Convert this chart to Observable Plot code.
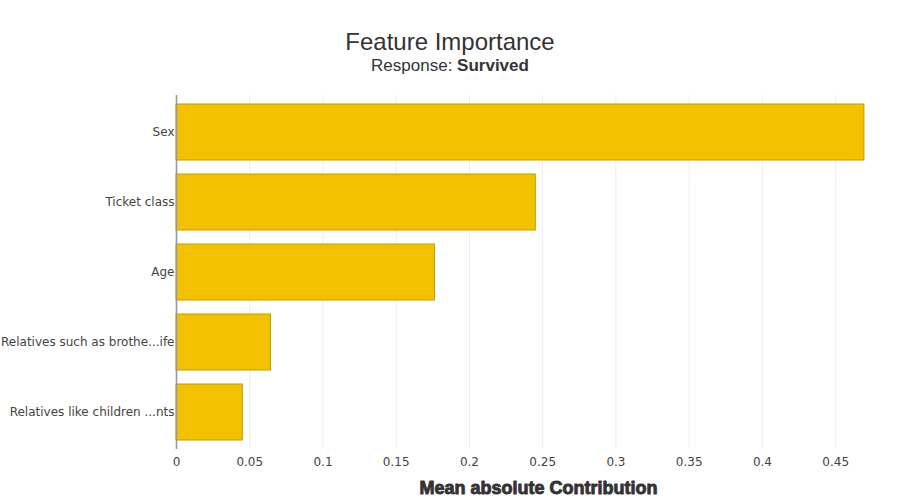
<!DOCTYPE html>
<html>
<head>
<meta charset="utf-8">
<script src="https://cdn.jsdelivr.net/npm/d3@7"></script>
<script src="https://cdn.jsdelivr.net/npm/@observablehq/plot@0.6"></script>
<style>
  html, body { margin: 0; padding: 0; background: #fff; }
  #wrap { width: 900px; height: 500px; position: relative; overflow: hidden; }
  #title { position: absolute; left: 0; top: 28px; width: 900px; text-align: center;
           font-family: "Liberation Sans", Arial, sans-serif; font-size: 24px; color: #333; line-height: 28px; }
  #subtitle { position: absolute; left: 0; top: 56px; width: 900px; text-align: center;
           font-family: "Liberation Sans", Arial, sans-serif; font-size: 17px; color: #333; line-height: 20px; }
  #chart { position: absolute; left: 0; top: 80px; }
</style>
</head>
<body>
<div id="wrap">
  <div id="title">Feature Importance</div>
  <div id="subtitle">Response: <b>Survived</b></div>
  <div id="chart"></div>
</div>
<script>
const features = ["Sex", "Ticket class", "Age", "Relatives such as brothe...ife", "Relatives like children ...nts"];
const importance = [0.4696, 0.2453, 0.1765, 0.0645, 0.0453];
const xTicks = [0, 0.05, 0.1, 0.15, 0.2, 0.25, 0.3, 0.35, 0.4, 0.45];
const xTitle = "Mean absolute Contribution";

const data = features.map((f, i) => ({feature: f, value: importance[i]}));
const xMax = d3.max(importance) * 1.0525;

const plot = Plot.plot({
  width: 900,
  height: 420,
  marginLeft: 176,
  marginRight: 0,
  marginTop: 15,
  marginBottom: 51,
  style: { fontFamily: "DejaVu Sans, Verdana, sans-serif", fontSize: "12px", color: "#444", background: "#fff" },
  x: { domain: [0, xMax], axis: null },
  y: { domain: features, paddingInner: 0.2, paddingOuter: 0.1, axis: null },
  marks: [
    Plot.gridX(xTicks.filter(d => d > 0), { stroke: "#eee", strokeOpacity: 1, strokeWidth: 1 }),
    Plot.barX(data, { x: "value", y: "feature", fill: "#f4c100", stroke: "#c4a000", strokeWidth: 1 }),
    Plot.ruleX([0], { stroke: "#999", strokeWidth: 1.6 }),
    Plot.axisY({ tickSize: 0, tickPadding: 2, fontSize: 12, label: null }),
    Plot.axisX({ ticks: xTicks, tickSize: 0, tickPadding: 8, fontSize: 12, label: null,
                 tickFormat: d => String(+d.toFixed(2)) }),
    Plot.text([xTitle], { frameAnchor: "bottom", dy: 44, text: d => d, fontSize: 18, fontWeight: "bold",
                          fontFamily: "Liberation Sans, Arial, sans-serif", fill: "#333",
                          stroke: "#333", strokeWidth: 0.9 })
  ]
});
document.getElementById("chart").appendChild(plot);
</script>
</body>
</html>
